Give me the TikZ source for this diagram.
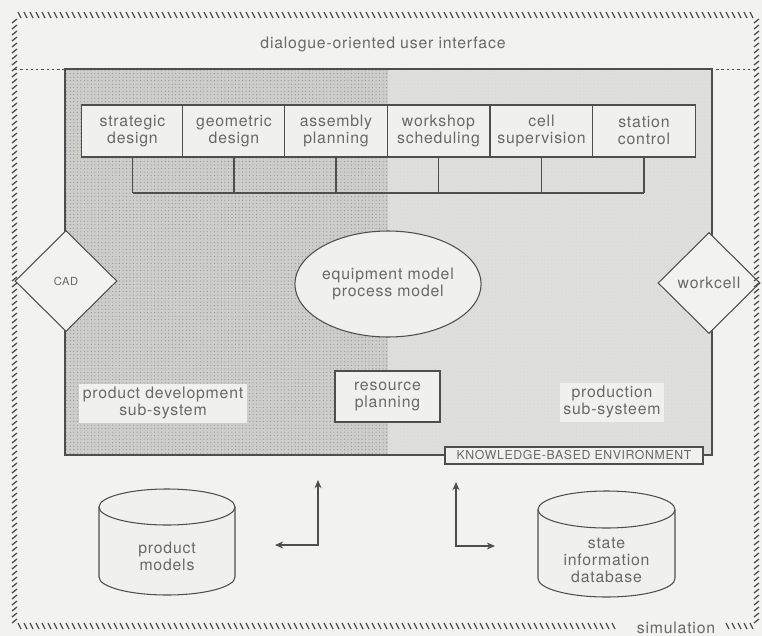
\documentclass[tikz,border=0pt]{standalone}
\usepackage{fontspec}
\setmainfont{TeX Gyre Heros}[LetterSpace=5]
\usepackage{xcolor}
\usepackage{tikz}
\usetikzlibrary{shapes.geometric,arrows.meta,positioning,patterns}

\definecolor{paper}{HTML}{F2F2EF}
\definecolor{lefthalf}{HTML}{CDCDC9}
\definecolor{righthalf}{HTML}{DEDEDA}
\definecolor{inkline}{HTML}{4E4E4E}
\definecolor{inktext}{HTML}{686868}
\definecolor{boxfill}{HTML}{F0F0EC}

\tikzset{
    every node/.style={text=inktext, font=\fontsize{13.5}{14.5}\selectfont},
    line/.style={draw=inkline, line width=0.9pt},
    unitbox/.style={line, fill=boxfill, minimum width=30.7mm, minimum height=15.6mm, inner sep=0pt, align=center},
    gate/.style={line, diamond, fill=paper, aspect=1, inner sep=0pt, minimum width=30.6mm, minimum height=30.3mm},
    label/.style={fill=boxfill, inner sep=3pt, align=center},
    arr/.style={line, {Stealth[length=7pt,width=6pt]}-{Stealth[length=7pt,width=6pt]}},
    hatch/.style={draw=inkline, line width=1.1pt}
}

\begin{document}
\begin{tikzpicture}[x=0.3mm, y=-0.3mm]
    % paper
    \fill[paper] (0,0) rectangle (762,636);
    \useasboundingbox (0,0) rectangle (762,636);

    % dotted user interface border
    \draw[inkline, line width=0.8pt, dash pattern=on 2pt off 2.5pt] (15,69) -- (758,69);

    % knowledge-based environment, two halves
    \fill[lefthalf] (65,69) rectangle (388,455);
    \fill[pattern=dots, pattern color=gray!85] (65,69) rectangle (388,455);
    \fill[righthalf] (388,69) rectangle (712,455);
    \fill[pattern=dots, pattern color=gray!30] (388,69) rectangle (712,455);
    \draw[line] (65,69) rectangle (712,455);

    % function boxes
    \node[unitbox] (sd) at (132.5,131) {strategic\\design};
    \node[unitbox] (gd) at (234,131) {geometric\\design};
    \node[unitbox] (ap) at (336,131) {assembly\\planning};
    \node[unitbox] (ws) at (438.5,131) {workshop\\scheduling};
    \node[unitbox] (cs) at (541.5,131) {cell\\supervision};
    \node[unitbox] (sc) at (644,131) {station\\control};

    % bus below the boxes
    \coordinate (bus) at (0,193);
    \foreach \n in {sd,gd,ap,ws,cs,sc}
        \draw[line] (\n.south) -- (\n.south |- bus);
    \draw[line] (sd.south |- bus) -- (sc.south |- bus);

    % shared models
    \node[line, ellipse, fill=boxfill, minimum width=48.6mm, minimum height=31.8mm, inner sep=0pt, align=center] (models) at (388,284) {equipment model\\process model};
    \node[unitbox, minimum width=31.5mm, minimum height=15.3mm] (rp) at (387.5,396.5) {resource\\planning};

    % sub-system labels
    \node[label] (pds) at (163,403) {product development\\sub-system};
    \node[label] (pss) at (612,402) {production\\sub-systeem};

    % interfaces on the sides
    \node[gate, font=\fontsize{9.5}{11}\selectfont] (cad) at (66,281) {CAD};
    \node[gate] (wc) at (709,283) {workcell};

    \node[line, fill=boxfill, minimum width=77.4mm, minimum height=5.1mm, inner sep=0pt, font=\fontsize{10.5}{11}\selectfont] (kbe) at (574,455.5) {KNOWLEDGE-BASED ENVIRONMENT};

    % databases
    \draw[line, fill=boxfill] (99,507) -- (99,577) arc[start angle=180, end angle=0, x radius=68, y radius=18] -- (235,507);
    \draw[line, fill=boxfill] (167,507) ellipse [x radius=68, y radius=18];
    \node[align=center] (pm) at (167,556) {product\\models};

    \draw[line, fill=boxfill] (538,509.5) -- (538,578.5) arc[start angle=180, end angle=0, x radius=68.5, y radius=18.5] -- (675,509.5);
    \draw[line, fill=boxfill] (606.5,509.5) ellipse [x radius=68.5, y radius=18.5];
    \node[align=center] (sid) at (606.5,560) {state\\information\\database};

    % data flow arrows
    \coordinate (lu) at (318,480);
    \coordinate (ll) at (275,545);
    \coordinate (ru) at (456,482);
    \coordinate (rr) at (495,546);
    \draw[arr] (lu) |- (ll);
    \draw[arr] (ru) |- (rr);

    % simulation frame
    \foreach \x in {18,24,...,752} \draw[hatch] (\x,12) -- ++(3,6);
    \foreach \y in {18,24,...,620} \draw[hatch] (12,\y+5) -- ++(5,-4);
    \foreach \y in {18,24,...,620} \draw[hatch] (754,\y+5) -- ++(5,-4);
    \foreach \x in {18,24,...,616} \draw[hatch] (\x,623) -- ++(3,6);
    \foreach \x in {726,732,...,752} \draw[hatch] (\x,623) -- ++(3,6);

    \node (ui) at (383,44) {dialogue-oriented user interface};
    \node (sim) at (676,628) {simulation};
\end{tikzpicture}
\end{document}
